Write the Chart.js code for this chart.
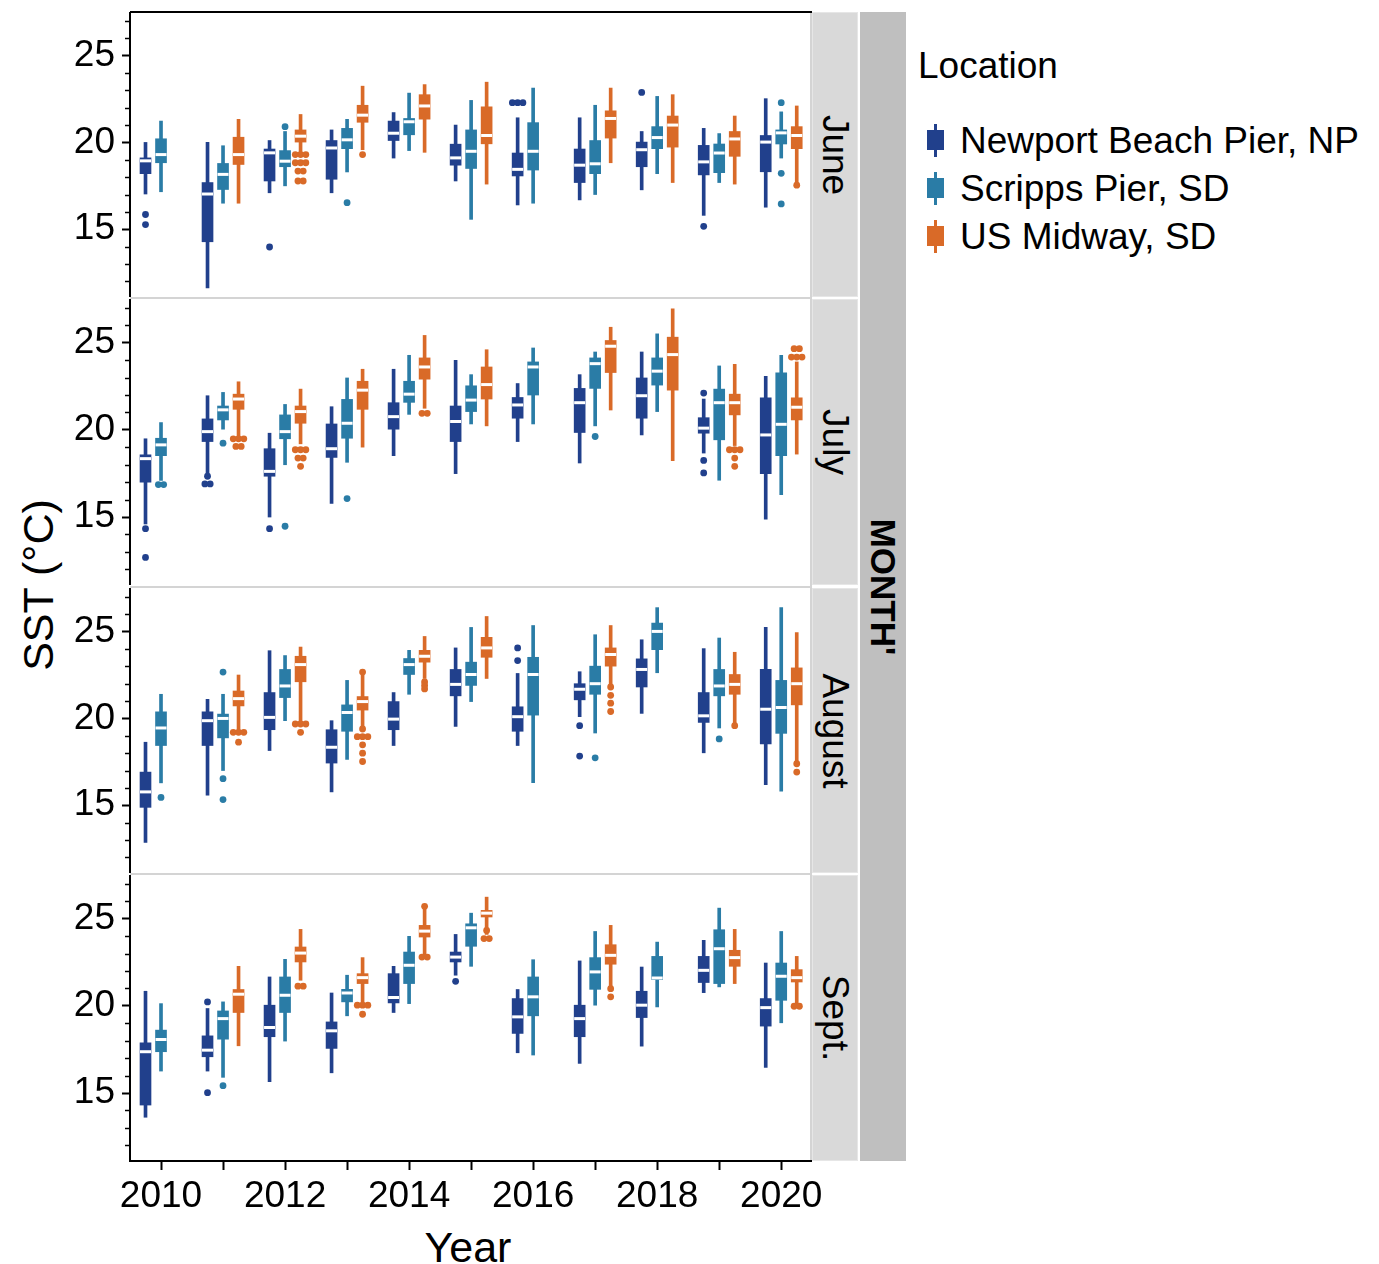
<!DOCTYPE html>
<html><head><meta charset="utf-8">
<script src="https://cdn.jsdelivr.net/npm/chart.js@4.4.1/dist/chart.umd.min.js"></script>
<style>
html,body{margin:0;padding:0;background:#fff;}
body{width:1379px;height:1264px;position:relative;overflow:hidden;font-family:'Liberation Sans',Arial,Helvetica,sans-serif;color:#000;}
canvas{position:absolute;left:0;}
.rot{position:absolute;left:50%;top:50%;white-space:nowrap;transform:translate(-50%,-50%) rotate(90deg);}
</style>
</head><body>
<script>
// ---------- data ----------
const years = [2010,2011,2012,2013,2014,2015,2016,2017,2018,2019,2020];
const locations = ['Newport Beach Pier, NP','Scripps Pier, SD','US Midway, SD'];
const locationColors = ['#21408c','#2a7ca6','#d96a28'];
const months = ['June','July','August','Sept.'];
const yTickLabels = [15,20,25];
const xTickLabels = [2010,2012,2014,2016,2018,2020];
// box: [lower whisker, lower hinge, median, upper hinge, upper whisker]; null = no data
// outliers: [year, value, count]
const juneNP = [[17.03,18.20,18.94,19.11,20.00],[11.63,14.28,17.03,17.69,20.00],[17.10,17.78,19.40,19.62,20.11],[17.10,17.88,19.68,20.11,20.72],[19.10,20.11,20.53,21.23,21.72],[17.78,18.69,19.11,19.90,21.00],[16.40,18.07,18.45,19.39,21.42],[16.69,17.69,18.69,19.62,21.42],[17.27,18.60,19.58,20.02,20.63],[15.80,18.13,18.88,19.83,20.81],[16.27,18.31,20.02,20.40,22.52]];
const juneNPOut = [[2010,15.85,1],[2010,15.27,1],[2012,13.98,1],[2016,22.29,3],[2018,22.88,1],[2019,15.17,1]];
const juneSD = [[17.16,18.83,19.30,20.21,21.23],[16.50,17.29,18.16,18.79,19.81],[17.50,18.60,18.92,19.53,20.63],[18.30,19.64,20.15,20.81,21.33],[19.53,20.44,21.19,21.38,22.84],[15.57,18.50,19.49,20.72,22.42],[16.50,18.41,19.49,21.14,23.13],[17.00,18.20,18.77,20.11,22.14],[18.20,19.64,20.28,20.91,22.65],[17.69,18.26,19.39,19.91,20.51],[19.10,19.91,20.55,20.72,21.76]];
const juneSDOut = [[2012,20.91,1],[2013,16.53,1],[2020,22.29,1],[2020,18.22,1],[2020,16.46,1]];
const juneUS = [null,[16.50,18.73,19.30,20.30,21.33],[19.30,20.02,20.36,20.72,21.61],[19.58,21.16,21.57,22.14,23.24],[19.43,21.34,22.10,22.75,23.33],[17.60,19.92,20.40,22.05,23.47],null,[18.83,20.25,21.38,21.82,23.13],[17.69,19.73,21.00,21.52,22.75],[17.60,19.20,20.20,20.63,21.52],[17.70,19.64,20.40,20.91,22.10]];
const juneUSOut = [[2012,19.30,3],[2012,18.83,3],[2012,18.35,2],[2012,17.78,2],[2013,19.30,1],[2020,17.54,1]];

const julyNP = [[14.60,17.00,18.35,18.57,19.49],[17.50,19.33,19.90,20.63,21.96],[15.00,17.34,17.62,18.92,19.81],[15.78,18.42,18.92,20.34,21.33],[18.52,20.04,20.76,21.56,23.48],[17.49,19.33,20.48,21.37,23.99],[19.33,20.67,21.43,21.86,22.66],[18.10,19.85,21.56,22.38,23.17],[19.71,20.67,21.96,22.98,24.47],[18.67,19.81,20.10,20.70,21.77],[14.87,17.49,19.71,21.84,23.08]];
const julyNPOut = [[2010,14.33,1],[2010,12.68,1],[2011,17.34,1],[2011,16.90,2],[2012,14.33,1],[2019,22.11,1],[2019,18.25,1],[2019,17.53,1]];
const julySD = [[17.10,18.52,19.14,19.52,20.42],[20.04,20.57,21.15,21.37,22.15],[18.00,19.49,19.90,20.86,21.46],[18.14,19.52,20.38,21.75,22.98],[20.89,21.58,22.05,22.79,24.28],[20.34,21.05,21.71,22.53,23.17],[20.34,22.00,23.61,23.90,24.70],[20.23,22.38,23.80,24.13,24.47],[21.05,22.57,23.37,24.13,25.51],[17.11,19.43,21.56,22.34,23.67],[16.29,18.52,20.32,23.27,24.28]];
const julySDOut = [[2010,16.86,2],[2011,19.24,1],[2012,14.47,1],[2013,16.06,1],[2017,19.62,1]];
const julyUS = [null,[19.60,21.18,21.77,22.05,22.76],[19.20,20.38,21.05,21.37,22.34],[19.01,21.18,22.28,22.79,23.48],[21.24,22.91,23.61,24.13,25.42],[20.23,21.77,22.60,23.61,24.60],null,[21.14,23.29,24.80,25.13,25.89],[18.23,22.28,24.32,25.32,26.94],[19.10,20.86,21.56,22.05,23.76],[18.61,20.57,21.30,21.84,23.90]];
const julyUSOut = [[2011,19.49,3],[2011,19.05,2],[2012,18.86,3],[2012,18.38,2],[2012,17.91,1],[2014,20.95,2],[2019,18.86,3],[2019,18.38,1],[2019,17.91,1],[2020,24.66,2],[2020,24.18,3]];

const augNP = [[12.86,14.88,15.77,16.91,18.63],[15.58,18.44,19.87,20.38,21.10],[18.15,19.35,20.06,21.49,23.90],[15.77,17.43,18.34,19.35,19.87],[18.44,19.35,19.96,20.97,21.49],[19.54,21.30,21.96,22.82,24.06],[18.44,19.26,20.10,20.67,22.59],[20.10,21.07,21.68,22.00,22.69],[20.29,21.81,22.82,23.43,24.53],[18.02,19.77,20.15,21.49,24.02],[16.19,18.53,20.53,22.82,25.24]];
const augNPOut = [[2016,24.06,1],[2016,23.33,1],[2017,19.58,1],[2017,17.83,1]];
const augSD = [[16.29,18.44,19.45,20.38,21.39],[17.00,18.88,20.00,20.25,21.39],[19.87,21.20,21.87,22.82,23.62],[17.64,19.26,20.34,20.78,22.19],[21.39,22.53,23.10,23.45,23.92],[20.97,21.90,22.53,23.24,25.24],[16.30,20.19,22.53,23.52,25.35],[19.16,21.39,22.00,23.01,24.82],[22.63,23.96,25.01,25.49,26.38],[19.45,21.30,21.87,22.82,24.63],[15.81,19.14,20.63,22.19,26.38]];
const augSDOut = [[2010,15.45,1],[2011,22.67,1],[2011,16.53,1],[2011,15.33,1],[2017,17.73,1],[2019,18.82,1]];
const augUS = [null,[19.30,20.72,21.14,21.58,22.50],[19.80,22.11,23.10,23.58,24.11],[19.39,20.48,20.97,21.26,22.50],[22.30,23.24,23.58,23.92,24.72],[22.30,23.52,24.06,24.67,25.87],null,[22.00,23.01,23.68,24.06,25.35],null,[19.70,21.39,21.96,22.53,23.81],[17.50,20.78,22.00,22.91,24.95]];
const augUSOut = [[2011,19.20,3],[2011,18.63,1],[2012,19.68,3],[2012,19.20,1],[2013,22.67,1],[2013,19.39,1],[2013,18.95,3],[2013,18.48,1],[2013,18.00,1],[2013,17.52,1],[2014,22.10,1],[2014,21.90,1],[2014,21.70,1],[2017,21.81,1],[2017,21.33,1],[2017,20.88,1],[2017,20.40,1],[2019,19.58,1],[2020,17.39,1],[2020,16.91,1]];

const sepNP = [[13.61,14.31,17.37,17.88,20.84],[16.26,17.08,17.46,18.28,19.85],[15.65,18.23,18.76,20.04,21.66],[16.16,17.56,18.57,19.08,20.74],[19.62,20.17,20.48,21.85,22.27],[21.76,22.52,22.80,23.09,24.10],[17.31,18.42,19.37,20.42,20.94],[16.70,18.23,19.27,20.04,22.58],[17.69,19.33,20.04,20.84,22.23],[20.76,21.34,22.04,22.84,23.76],[16.47,18.84,19.90,20.42,22.46]];
const sepNPOut = [[2011,20.23,1],[2011,15.02,1],[2015,21.41,1]];
const sepSD = [[16.26,17.37,18.07,18.61,20.13],[15.90,18.09,19.27,19.71,20.23],[17.98,19.62,20.61,21.66,22.67],[19.43,20.23,20.74,20.95,21.76],[20.13,21.28,22.33,23.09,23.99],[22.27,23.42,24.48,24.71,25.32],[17.18,19.43,20.52,21.66,22.65],[20.04,20.95,21.95,22.77,24.27],[19.94,21.51,21.60,22.84,23.66],[21.09,21.28,23.28,24.37,25.61],[19.03,20.32,21.70,22.46,24.27]];
const sepSDOut = [[2011,15.42,1]];
const sepUS = [null,[17.71,19.62,20.67,20.94,22.27],[21.47,22.52,23.03,23.38,24.39],[20.10,21.28,21.62,21.85,22.77],[22.90,23.95,24.29,24.62,25.60],[24.10,25.10,25.32,25.48,26.24],null,[21.10,22.39,22.90,23.51,24.62],null,[21.28,22.27,22.77,23.19,24.39],[20.10,21.37,21.62,22.08,22.84]];
const sepUSOut = [[2012,21.13,2],[2013,20.04,3],[2013,19.52,1],[2014,25.71,1],[2014,22.80,2],[2015,24.33,1],[2015,23.86,2],[2017,20.99,1],[2017,20.52,1],[2020,19.98,2]];

// ---------- layout ----------
const panelBoxes = [[juneNP,juneSD,juneUS],[julyNP,julySD,julyUS],[augNP,augSD,augUS],[sepNP,sepSD,sepUS]];
const panelOuts = [[juneNPOut,juneSDOut,juneUSOut],[julyNPOut,julySDOut,julyUSOut],[augNPOut,augSDOut,augUSOut],[sepNPOut,sepSDOut,sepUSOut]];
const panelTops = [12,299,588,875];
const panelHeights = [285,286,285,286];
const locOffset = [-0.25,0,0.25];
const X_AXIS_H = 103;

Chart.defaults.font.family = "'Liberation Sans', Arial, Helvetica, sans-serif";

function el(tag, css, html){const e=document.createElement(tag);e.style.cssText=css;if(html!==undefined)e.innerHTML=html;document.body.appendChild(e);return e;}

// panel frames and strips
el('div','position:absolute;left:860px;top:12px;width:46px;height:1149px;background:#bfbfbf;');
el('div','position:absolute;left:810px;top:12px;width:2px;height:1149px;background:#d4d4d4;');
el('div','position:absolute;left:130px;top:11px;width:682px;height:2px;background:#000;');
panelTops.forEach((t,i)=>{
  const s = el('div','position:absolute;left:812px;width:46px;top:'+t+'px;height:'+panelHeights[i]+'px;background:#d9d9d9;box-shadow:inset 0 0 0 1px #e6e6e6;');
  const sp = document.createElement('div'); sp.className='rot'; sp.style.fontSize='37px'; sp.textContent=months[i]; s.appendChild(sp);
  if(i>0) el('div','position:absolute;left:130px;width:682px;top:'+(t-2)+'px;height:2px;background:#d4d4d4;');
});
const mo = el('div','position:absolute;left:860px;top:12px;width:46px;height:1149px;');
const mos = document.createElement('div'); mos.className='rot'; mos.style.cssText+='font-size:35px;font-weight:bold;'; mos.textContent="MONTH'"; mo.appendChild(mos);

// axis titles
el('div','position:absolute;left:38px;top:585px;font-size:43px;white-space:nowrap;transform:translate(-50%,-50%) rotate(-90deg);','SST (°C)');
el('div','position:absolute;left:468px;top:1247px;font-size:43px;white-space:nowrap;transform:translate(-50%,-50%);','Year');

// legend
el('div','position:absolute;left:918px;top:65px;font-size:37px;white-space:nowrap;transform:translateY(-50%);line-height:1;','Location');
locations.forEach((name,i)=>{
  const cy = 140 + i*48;
  el('div','position:absolute;left:934px;top:'+(cy-16)+'px;width:3px;height:33px;background:'+locationColors[i]+';');
  el('div','position:absolute;left:927px;top:'+(cy-10)+'px;width:17px;height:20px;background:'+locationColors[i]+';');
  el('div','position:absolute;left:960px;top:'+cy+'px;font-size:37px;white-space:nowrap;transform:translateY(-50%);line-height:1;',name);
});

const minorTicks = {
  id:'minorTicks',
  afterDraw(chart){
    const s = chart.scales.y, ctx = chart.ctx;
    ctx.save(); ctx.strokeStyle='#000'; ctx.lineWidth=1.5;
    for(let v=Math.ceil(s.min); v<=s.max; v++){
      if(v%5===0) continue;
      const py = Math.round(s.getPixelForValue(v))+0.5;
      ctx.beginPath(); ctx.moveTo(s.right-5,py); ctx.lineTo(s.right,py); ctx.stroke();
    }
    ctx.restore();
  }
};

function buildDatasets(pi){
  const ds=[];
  panelBoxes[pi].forEach((series,l)=>{
    const col = locationColors[l];
    const wh=[], bx=[], md=[];
    series.forEach((b,i)=>{
      if(!b) return;
      const x = years[i]+locOffset[l];
      wh.push({x:x,y:[b[0],b[4]]});
      bx.push({x:x,y:[b[1],b[3]]});
      md.push({x:x,y:b[2]});
    });
    ds.push({type:'bar',label:locations[l],data:wh,backgroundColor:col,borderWidth:0,barThickness:3,maxBarThickness:3,grouped:false,order:6});
    ds.push({type:'bar',label:locations[l],data:bx,backgroundColor:col,borderWidth:0,barThickness:11,maxBarThickness:11,grouped:false,order:5});
    ds.push({type:'scatter',label:locations[l],data:md,showLine:false,pointStyle:'line',pointRadius:5.5,pointHoverRadius:5.5,pointBorderColor:'#fff',pointBorderWidth:3,order:3});
    const od=[];
    panelOuts[pi][l].forEach(o=>{
      const n=o[2];
      for(let j=0;j<n;j++) od.push({x:o[0]+locOffset[l]+(j-(n-1)/2)*0.085,y:o[1]});
    });
    ds.push({type:'scatter',label:locations[l],data:od,showLine:false,pointStyle:'circle',pointRadius:3.4,pointHoverRadius:3.4,pointBackgroundColor:col,pointBorderWidth:0,order:2});
  });
  return ds;
}

panelTops.forEach((top,pi)=>{
  const last = pi===panelTops.length-1;
  const h = panelHeights[pi] + (last?X_AXIS_H:0);
  const c = document.createElement('canvas');
  c.width=860; c.height=h; c.style.top=top+'px'; c.style.width='860px'; c.style.height=h+'px';
  document.body.appendChild(c);
  const xScale = {type:'linear',min:2009.5,max:2020.48,offset:false,display:last,
     grid:{display:true,drawOnChartArea:false,offset:false,tickLength:9,tickWidth:2,color:'#000'},
     border:{display:true,color:'#000',width:2},
     ticks:{stepSize:1,autoSkip:false,maxRotation:0,minRotation:0,includeBounds:false,padding:5,color:'#000',font:{size:37},
       callback:(v)=>{const r=Math.round(v);return (Math.abs(v-r)<1e-6 && xTickLabels.includes(r))?String(r):'';}}};
  if(last) xScale.afterFit = (s)=>{s.height=X_AXIS_H;s.paddingLeft=0;s.paddingRight=0;};
  new Chart(c.getContext('2d'),{
    type:'bar',
    data:{datasets:buildDatasets(pi)},
    options:{
      responsive:false, animation:false, events:[], devicePixelRatio:1,
      layout:{autoPadding:false,padding:{left:0,right:49,top:0,bottom:0}},
      plugins:{legend:{display:false},tooltip:{enabled:false},title:{display:false}},
      scales:{
        x:xScale,
        y:{type:'linear',min:11.1,max:27.51,beginAtZero:false,
           grid:{display:true,drawOnChartArea:false,tickLength:8,tickWidth:2,color:'#000'},
           border:{display:true,color:'#000',width:2},
           ticks:{stepSize:5,includeBounds:false,autoSkip:false,padding:7,color:'#000',font:{size:37},
             callback:(v)=>yTickLabels.includes(v)?String(v):''},
           afterFit:(s)=>{s.width=130;s.paddingTop=0;s.paddingBottom=0;}}
      }
    },
    plugins:[minorTicks]
  });
});
</script>
</body></html>
